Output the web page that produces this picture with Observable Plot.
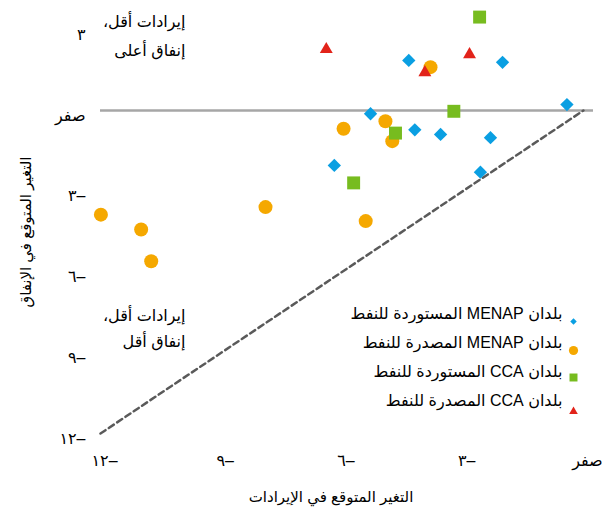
<!DOCTYPE html>
<html><head><meta charset="utf-8">
<script src="https://cdn.jsdelivr.net/npm/d3@7"></script>
<script src="https://cdn.jsdelivr.net/npm/@observablehq/plot@0.6"></script>
<style>
body{margin:0;background:#fff;}
#wrap{position:relative;width:613px;height:512px;}
#legend{position:absolute;left:300px;top:293px;}
</style></head><body><div id="wrap"></div>
<script>
// ---- data ----
const xTicks = [-12, -9, -6, -3, 0];
const xTickLabels = ["١٢–", "٩–", "٦–", "٣–", "صفر"];
const yTicks = [-12, -9, -6, -3, 0, 3];
const yTickLabels = ["١٢–", "٩–", "٦–", "٣–", "صفر", "٣"];

const seriesNames = [
  "بلدان MENAP المستوردة للنفط",
  "بلدان MENAP المصدرة للنفط",
  "بلدان CCA المستوردة للنفط",
  "بلدان CCA المصدرة للنفط"
];

const menapImportersX = [-4.34, -2.01, -0.41, -5.29, -4.19, -3.55, -2.31, -6.19, -2.56];
const menapImportersY = [1.86, 1.79, 0.22, -0.12, -0.72, -0.89, -1.01, -2.04, -2.29];

const menapExportersX = [-3.80, -4.92, -5.96, -4.75, -11.99, -10.99, -10.74, -7.90, -5.41];
const menapExportersY = [1.61, -0.40, -0.68, -1.14, -3.87, -4.42, -5.60, -3.59, -4.11];

const ccaImportersX = [-2.58, -3.22, -4.67, -5.71];
const ccaImportersY = [3.47, -0.03, -0.84, -2.69];

const ccaExportersX = [-6.39, -2.83, -3.94];
const ccaExportersY = [2.27, 2.08, 1.41];

const diagonalX = [-12, 0];
const diagonalY = [-12, 0];

const xTitle = "التغير المتوقع في الإيرادات";
const yTitle = "التغير المتوقع في الإنفاق";
const noteTop = ["إيرادات أقل،", "إنفاق أعلى"];
const noteBottom = ["إيرادات أقل،", "إنفاق أقل"];

// ---- styles ----
const colors = ["#0a9fe2", "#f5a800", "#77bc1f", "#e2231a"];
const symbols = ["diamond2", "circle", "square", "triangle"];
const dotR = [6, 7, 7.3, 4.8];
const legendR = [2.9, 4.6, 4.5, 3.2];
const legendDy = [8, 8, 6, 11];
const font = "'Liberation Sans', Arial, 'DejaVu Sans', sans-serif";

const rtl = s => "\u202B" + s + "\u202C";
const pts = (xs, ys) => xs.map((x, i) => ({x, y: ys[i]}));
const series = [
  pts(menapImportersX, menapImportersY),
  pts(menapExportersX, menapExportersY),
  pts(ccaImportersX, ccaImportersY),
  pts(ccaExportersX, ccaExportersY)
];

const chart = Plot.plot({
  width: 613, height: 512,
  marginLeft: 100, marginRight: 20, marginTop: 0, marginBottom: 79,
  style: {fontFamily: font, fontSize: "16px", background: "white", color: "#000"},
  x: {domain: [-12, 0.25]},
  y: {domain: [-12, 4.086]},
  marks: [
    Plot.ruleY([0], {stroke: "#a6a6a6", strokeWidth: 2.5}),
    Plot.line(pts(diagonalX, diagonalY), {x: "x", y: "y", stroke: "#5a5a5a", strokeWidth: 2.5, strokeDasharray: "6,4"}),
    Plot.axisX({ticks: xTicks, tickFormat: d => xTickLabels[xTicks.indexOf(d)], tickSize: 0, tickPadding: 21, dx: 4, fontSize: 16, label: null}),
    Plot.axisY({ticks: yTicks, tickFormat: d => yTickLabels[yTicks.indexOf(d)], tickSize: 0, tickPadding: 15, dy: 5, fontSize: 16, label: null}),
    ...series.map((s, i) => Plot.dot(s, {x: "x", y: "y", symbol: symbols[i], fill: colors[i], r: dotR[i]})),
    Plot.text([xTitle], {text: d => d, frameAnchor: "bottom", textAnchor: "middle", lineAnchor: "middle", dx: -16, dy: 64, fontSize: 15}),
    Plot.text([yTitle], {text: d => d, frameAnchor: "left", textAnchor: "middle", lineAnchor: "middle", rotate: -90, dx: -74, dy: 15, fontSize: 15}),
    Plot.text([noteTop.map(rtl).join("\n")], {text: d => d, frameAnchor: "top-left", dx: 85, dy: 32, textAnchor: "end", lineAnchor: "middle", lineHeight: 1.8, fontSize: 16}),
    Plot.text([noteBottom.map(rtl).join("\n")], {text: d => d, frameAnchor: "top-left", dx: 85, dy: 325, textAnchor: "end", lineAnchor: "middle", lineHeight: 1.65, fontSize: 16})
  ]
});

const legend = Plot.plot({
  width: 290, height: 130,
  marginLeft: 0, marginTop: 0, marginBottom: 0, marginRight: 17,
  style: {fontFamily: font, fontSize: "16px", background: "transparent", color: "#000"},
  y: {type: "point", domain: seriesNames, range: [20, 107], padding: 0, axis: null},
  marks: [
    Plot.text(seriesNames, {y: d => d, text: d => rtl(d), frameAnchor: "right", dx: -11, textAnchor: "end", fontSize: 16}),
    ...seriesNames.map((s, i) => Plot.dot([s], {y: d => d, frameAnchor: "right", dy: legendDy[i], symbol: symbols[i], fill: colors[i], r: legendR[i]}))
  ]
});
legend.id = "legend";

const wrap = document.getElementById("wrap");
wrap.appendChild(chart);
wrap.appendChild(legend);
</script>
</body></html>
